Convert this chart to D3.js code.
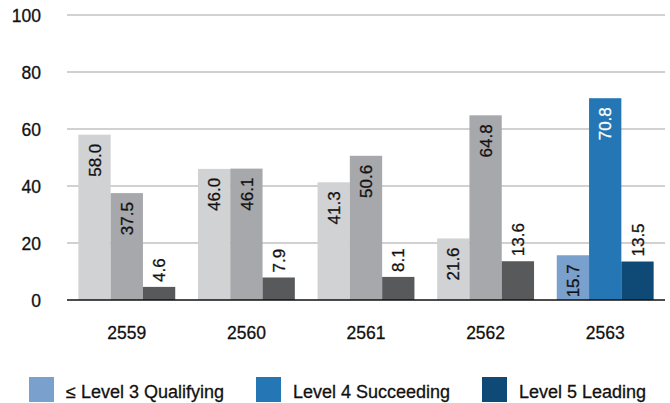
<!DOCTYPE html>
<html>
<head>
<meta charset="utf-8">
<script src="https://cdn.jsdelivr.net/npm/d3@7"></script>
<style>
  html, body { margin: 0; padding: 0; background: #fff; }
  svg { display: block; font-family: "Liberation Sans", Arial, Helvetica, sans-serif; }
  svg text { stroke-width: 0.3px; }
</style>
</head>
<body>
<svg id="chart" width="670" height="403"></svg>
<script>
// Years (Buddhist era) and the share of each level per year
const years = ["2559", "2560", "2561", "2562", "2563"];
const seriesNames = ["≤ Level 3 Qualifying", "Level 4 Succeeding", "Level 5 Leading"];
const qualifying = [58.0, 46.0, 41.3, 21.6, 15.7];
const succeeding = [37.5, 46.1, 50.6, 64.8, 70.8];
const leading = [4.6, 7.9, 8.1, 13.6, 13.5];
const yTicks = [0, 20, 40, 60, 80, 100];

// Earlier years are shown in grays, the latest year in blues
const grayColors = ["#d1d2d4", "#a7a8ab", "#58595b"];
const blueColors = ["#7aa0cd", "#2477b4", "#0e4a75"];
const highlightYear = "2563";

const svg = d3.select("#chart");
const margin = { left: 67, right: 5, top: 15, bottom: 103 };
const width = 670, height = 403;
const plotRight = width - margin.right;
const plotBottom = height - margin.bottom;
const ink = "#111";

const x0 = d3.scaleBand().domain(years).range([margin.left, plotRight])
  .paddingInner(0.19).paddingOuter(0.095);
const x1 = d3.scaleBand().domain([0, 1, 2]).range([0, x0.bandwidth()]);
const y = d3.scaleLinear().domain([0, 100]).range([plotBottom, margin.top]);

// Horizontal gridlines
svg.append("g")
  .selectAll("line")
  .data(yTicks.filter(t => t > 0))
  .join("line")
  .attr("x1", margin.left).attr("x2", plotRight)
  .attr("y1", d => y(d)).attr("y2", d => y(d))
  .attr("stroke", "#c2c2c2").attr("stroke-width", 1.5);

// Y-axis tick labels
const yAxis = d3.axisLeft(y).tickValues(yTicks).tickSize(0).tickPadding(26)
  .tickFormat(d3.format("d"));
svg.append("g")
  .attr("transform", `translate(${margin.left},1)`)
  .call(yAxis)
  .call(g => g.select(".domain").remove())
  .call(g => g.selectAll("text")
    .attr("font-size", 17.5).attr("fill", ink).attr("stroke", ink)
    .attr("font-family", "'Liberation Sans', Arial, sans-serif"));

const rows = years.map((yr, i) => ({
  year: yr,
  values: [qualifying[i], succeeding[i], leading[i]]
}));

const groups = svg.append("g").selectAll("g")
  .data(rows)
  .join("g")
  .attr("transform", d => `translate(${x0(d.year)},0)`);

groups.selectAll("rect")
  .data(d => d.values.map((v, k) => ({ v, k, year: d.year })))
  .join("rect")
  .attr("x", d => x1(d.k))
  .attr("width", x1.bandwidth())
  .attr("y", d => y(d.v))
  .attr("height", d => y(0) - y(d.v))
  .attr("fill", d => (d.year === highlightYear ? blueColors : grayColors)[d.k]);

// Rotated value labels: inside the top of tall bars, above short bars
groups.selectAll("text.val")
  .data(d => d.values.map((v, k) => ({ v, k, year: d.year })))
  .join("text")
  .attr("class", "val")
  .attr("transform", d => {
    const cx = x1(d.k) + x1.bandwidth() / 2;
    const inside = d.v > 15;
    const yy = inside ? y(d.v) + 9 : y(d.v) - 5;
    return `translate(${cx},${yy}) rotate(-90)`;
  })
  .attr("text-anchor", d => d.v > 15 ? "end" : "start")
  .attr("dy", "0.36em")
  .attr("font-size", 17)
  .attr("fill", d => (d.year === highlightYear && d.k === 1) ? "#ffffff" : ink)
  .attr("stroke", d => (d.year === highlightYear && d.k === 1) ? "#ffffff" : ink)
  .text(d => d.v.toFixed(1));

// Baseline
svg.append("line")
  .attr("x1", margin.left).attr("x2", plotRight)
  .attr("y1", y(0)).attr("y2", y(0))
  .attr("stroke", ink).attr("stroke-width", 1.5);

// Category labels
const xAxis = d3.axisBottom(x0).tickSize(0).tickPadding(27);
svg.append("g")
  .attr("transform", `translate(0,${y(0)})`)
  .call(xAxis)
  .call(g => g.select(".domain").remove())
  .call(g => g.selectAll("text")
    .attr("font-size", 17.5).attr("fill", ink).attr("stroke", ink)
    .attr("font-family", "'Liberation Sans', Arial, sans-serif"));

// Legend
const legendX = [29, 256, 482];
const legend = svg.append("g").selectAll("g")
  .data(seriesNames)
  .join("g")
  .attr("transform", (d, i) => `translate(${legendX[i]},377)`);
legend.append("rect")
  .attr("width", 25).attr("height", 25)
  .attr("fill", (d, i) => blueColors[i]);
legend.append("text")
  .attr("x", 37).attr("y", 21)
  .attr("font-size", 18).attr("fill", ink).attr("stroke", ink)
  .text(d => d);
</script>
</body>
</html>
